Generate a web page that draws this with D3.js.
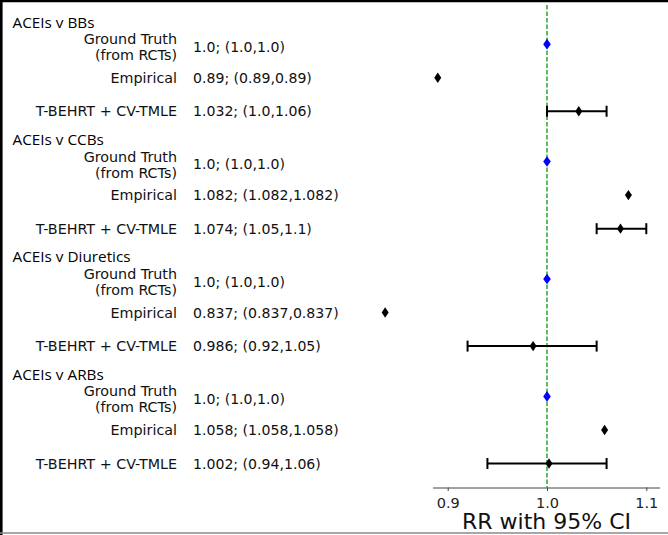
<!DOCTYPE html>
<html>
<head>
<meta charset="utf-8">
<script src="https://cdn.jsdelivr.net/npm/d3@7"></script>
<style>
  html, body { margin: 0; padding: 0; background: #fff; }
  svg { display: block; }
</style>
</head>
<body>
<div id="chart"></div>
<script>
// ---- data ----
const groups = ["ACEIs v BBs", "ACEIs v CCBs", "ACEIs v Diuretics", "ACEIs v ARBs"];
const methods = [["Ground Truth", "(from RCTs)"], ["Empirical"], ["T-BEHRT + CV-TMLE"]];
const estimates = [[1.0, 0.89, 1.032], [1.0, 1.082, 1.074], [1.0, 0.837, 0.986], [1.0, 1.058, 1.002]];
const lower     = [[1.0, 0.89, 1.0],   [1.0, 1.082, 1.05],  [1.0, 0.837, 0.92],  [1.0, 1.058, 0.94]];
const upper     = [[1.0, 0.89, 1.06],  [1.0, 1.082, 1.1],   [1.0, 0.837, 1.05],  [1.0, 1.058, 1.06]];
const xTicks = [0.9, 1.0, 1.1];
const refValue = 1.0;
const axisTitle = "RR with 95% CI";

// ---- layout ----
const W = 668, H = 535;
const svg = d3.select("#chart").append("svg").attr("width", W).attr("height", H);
svg.append("rect").attr("width", W).attr("height", H).attr("fill", "#fff");

const x = d3.scaleLinear().domain([0.9, 1.1]).range([447.7, 646.3]);
const y = d3.scaleLinear().domain([0, 1]).range([22, 55.55]); // row units
const groupStep = 3.5, firstRow = 0.66;
const rowPos = (g, m) => g * groupStep + firstRow + m;

const fmt = v => Number.isInteger(v) ? v.toFixed(1) : String(v);

// frame borders
svg.append("line").attr("x1", 0).attr("x2", W).attr("y1", 1).attr("y2", 1)
  .attr("stroke", "#000").attr("stroke-width", 2.5);
svg.append("line").attr("x1", 1.3).attr("x2", 1.3).attr("y1", 0).attr("y2", H)
  .attr("stroke", "#000").attr("stroke-width", 2.6);
svg.append("line").attr("x1", 0).attr("x2", W).attr("y1", 533).attr("y2", 533)
  .attr("stroke", "#8a8a8a").attr("stroke-width", 1.5);

const axisY = 487.5;

// reference dashed line
svg.append("line")
  .attr("x1", x(refValue)).attr("x2", x(refValue))
  .attr("y1", 5).attr("y2", axisY)
  .attr("stroke", "#34ad34").attr("stroke-width", 1.6)
  .attr("stroke-dasharray", "4.5,2");

// x axis
const axis = d3.axisBottom(x).tickValues(xTicks).tickFormat(d3.format(".1f"))
  .tickSize(3.5).tickSizeOuter(0);
const gAx = svg.append("g").attr("transform", `translate(0,${axisY})`).call(axis);
gAx.select(".domain").attr("d", `M433,0.5H660`).attr("stroke", "#444");
gAx.selectAll(".tick line").attr("stroke", "#444");
gAx.selectAll(".tick text")
  .attr("font-family", "DejaVu Sans").attr("font-size", 14.5).attr("fill", "#222")
  .attr("dy", null).attr("y", 20);

svg.append("text")
  .attr("x", (433 + 660) / 2).attr("y", 529)
  .attr("text-anchor", "middle")
  .attr("font-family", "DejaVu Sans").attr("font-size", 22).attr("fill", "#111")
  .text(axisTitle);

// group headers & rows
groups.forEach((gName, g) => {
  svg.append("text")
    .attr("x", 12.5).attr("y", y(g * groupStep) + 5.5)
    .attr("font-family", "Open Sans").attr("font-size", 15.3).attr("fill", "#000")
    .text(gName);

  methods.forEach((lines, m) => {
    const ry = y(rowPos(g, m));
    const lbl = svg.append("text")
      .attr("text-anchor", "end")
      .attr("font-family", "DejaVu Sans").attr("font-size", 14.3).attr("fill", "#111");
    if (lines.length === 2) {
      lbl.append("tspan").attr("x", 177).attr("y", ry).text(lines[0]);
      lbl.append("tspan").attr("x", 177).attr("y", ry + 16).text(lines[1]);
    } else {
      lbl.attr("x", 177).attr("y", ry + 5).text(lines[0]);
    }
    svg.append("text")
      .attr("x", 193).attr("y", lines.length === 2 ? ry + 7.7 : ry + 5)
      .attr("font-family", "DejaVu Sans").attr("font-size", 14.1).attr("fill", "#111")
      .text(`${fmt(estimates[g][m])}; (${fmt(lower[g][m])},${fmt(upper[g][m])})`);

    const lo = lower[g][m], hi = upper[g][m], est = estimates[g][m];
    if (hi > lo) {
      svg.append("line").attr("x1", x(lo)).attr("x2", x(hi)).attr("y1", ry).attr("y2", ry)
        .attr("stroke", "#000").attr("stroke-width", 2);
      [lo, hi].forEach(v => {
        svg.append("line").attr("x1", x(v)).attr("x2", x(v)).attr("y1", ry - 5.5).attr("y2", ry + 5.5)
          .attr("stroke", "#000").attr("stroke-width", 2);
      });
    }
    const isRef = m === 0;
    const hw = isRef ? 3.8 : 3.5, hh = isRef ? 5.3 : 5.2;
    svg.append("path")
      .attr("d", `M0,${-hh}L${hw},0L0,${hh}L${-hw},0Z`)
      .attr("transform", `translate(${x(est)},${ry})`)
      .attr("fill", isRef ? "#0000ff" : "#000");
  });
});
</script>
</body>
</html>
